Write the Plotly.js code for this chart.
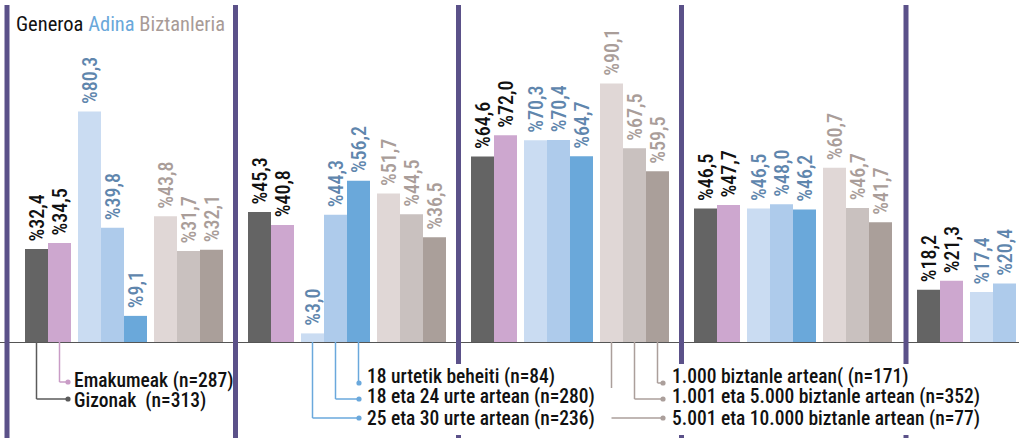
<!DOCTYPE html>
<html><head><meta charset="utf-8">
<script src="https://cdn.plot.ly/plotly-3.0.1.min.js"></script>
<style>html,body{margin:0;padding:0;background:#fff;overflow:hidden}#chart{width:1019px;height:438px}</style>
</head><body><div id="chart"></div>
<script>
// ---- data ----
const groups = ['1', '2', '3', '4', '5'];
const gizonak     = [32.4, 45.3, 64.6, 46.5, 18.2];
const emakumeak   = [34.5, 40.8, 72.0, 47.7, 21.3];
const adina25_30  = [80.3, 3.0, 70.3, 46.5, 17.4];
const adina18_24  = [39.8, 44.3, 70.4, 48.0, 20.4];
const adina18beh  = [9.1, 56.2, 64.7, 46.2, null];
const bizt5001    = [43.8, 51.7, 90.1, 60.7, null];
const bizt1001    = [31.7, 44.5, 67.5, 46.7, null];
const bizt1000    = [32.1, 36.5, 59.5, 41.7, null];
const headerLabels = ['Generoa', 'Adina', 'Biztanleria'];
const genderLabels = ['Gizonak\u00a0\u00a0(n=313)', 'Emakumeak (n=287)'];
const ageLabels = ['25 eta 30 urte artean (n=236)', '18 eta 24 urte artean (n=280)', '18 urtetik beheiti (n=84)'];
const popLabels = ['5.001 eta 10.000 biztanle artean (n=77)', '1.001 eta 5.000 biztanle artean (n=352)', '1.000 biztanle artean( (n=171)'];

// ---- layout constants ----
const W = 1019, H = 438, BASE = 342;
const C0 = 124, PITCH = 223, BW = 23, GAP = 7;
const FONT = '"Roboto Condensed", Roboto, sans-serif';
const sizes = [2, 3, 3];
const offsets = [];
(function () {
  const total = 8 * BW + 2 * GAP;
  let pos = -total / 2;
  sizes.forEach(n => {
    for (let j = 0; j < n; j++) { offsets.push(pos + BW / 2); pos += BW; }
    pos += GAP;
  });
})();
const px2x = p => (p - C0) / PITCH;
const py2paper = p => (BASE - p) / BASE;
const barX = (g, s) => g + offsets[s] / PITCH;

const series = [
  { y: gizonak,    color: '#646464', tc: '#111111', name: genderLabels[0] },
  { y: emakumeak,  color: '#cda7cf', tc: '#111111', name: genderLabels[1] },
  { y: adina25_30, color: '#cadcf2', tc: '#5f86ad', name: ageLabels[0] },
  { y: adina18_24, color: '#aecbeb', tc: '#5f86ad', name: ageLabels[1] },
  { y: adina18beh, color: '#6aa8da', tc: '#5f86ad', name: ageLabels[2] },
  { y: bizt5001,   color: '#e0d7d6', tc: '#a99d99', name: popLabels[0] },
  { y: bizt1001,   color: '#c9c1bf', tc: '#a99d99', name: popLabels[1] },
  { y: bizt1000,   color: '#aa9f9a', tc: '#a99d99', name: popLabels[2] }
];
const fmt = v => v == null ? '' : '\u00a0%' + v.toFixed(1).replace('.', ',');

const traces = series.map((s, i) => ({
  type: 'bar',
  name: s.name,
  x: groups.map((_, g) => barX(g, i)),
  y: s.y,
  width: BW / PITCH,
  marker: { color: s.color, line: { width: 0 } },
  text: s.y.map(fmt),
  textposition: 'outside',
  textangle: -90,
  constraintext: 'none',
  cliponaxis: true,
  textfont: { family: FONT, size: 20, color: s.tc, weight: 500 },
  hoverinfo: 'skip'
}));

const shapes = [];
const annotations = [];
const DIV = '#5b5189';
const divs = [
  { p: 7, full: true }, { p: C0 + 0.5 * PITCH, full: true },
  { p: C0 + 1.5 * PITCH, full: false }, { p: C0 + 2.5 * PITCH, full: false }, { p: C0 + 3.5 * PITCH + 1.5, full: false }
];
divs.forEach(d => {
  const segs = d.full ? [[5, H]] : [[5, 364], [435, H]];
  segs.forEach(([a, b]) => shapes.push({
    type: 'line', xref: 'paper', yref: 'paper', layer: 'above',
    x0: d.p / W, x1: d.p / W, y0: py2paper(a), y1: py2paper(b),
    line: { color: DIV, width: 5 }
  }));
});
function leader(g, s, rowY, dotPx, textPx, textY, text, color, gapTo) {
  const xb = barX(g, s);
  const vEnd = gapTo != null ? gapTo : rowY;
  shapes.push({ type: 'line', xref: 'x', yref: 'paper', x0: xb, x1: xb, y0: 0, y1: py2paper(vEnd), line: { color: color, width: 1.5 } });
  shapes.push({ type: 'line', xref: 'x', yref: 'paper', x0: xb, x1: px2x(dotPx), y0: py2paper(rowY), y1: py2paper(rowY), line: { color: color, width: 1.5 } });
  const r = 2.6;
  shapes.push({ type: 'circle', xref: 'paper', yref: 'paper', x0: (dotPx - r) / W, x1: (dotPx + r) / W, y0: py2paper(rowY + r), y1: py2paper(rowY - r), fillcolor: color, line: { width: 0 } });
  annotations.push({ xref: 'paper', yref: 'paper', x: textPx / W, y: py2paper(textY), xanchor: 'left', yanchor: 'middle', showarrow: false, text: text, font: { family: FONT, size: 19.5, color: '#111', weight: 500 } });
}
leader(0, 0, 399, 68, 72, 400, genderLabels[0], '#5a5a5a');
leader(0, 1, 382, 68, 72, 381, genderLabels[1], '#c99cc6');
leader(1, 2, 418, 359, 365, 418, ageLabels[0], '#6aa8dc');
leader(1, 3, 399, 359, 365, 397, ageLabels[1], '#6aa8dc');
leader(1, 4, 383, 359, 365, 376, ageLabels[2], '#6aa8dc');
leader(2, 5, 418, 663, 670, 418, popLabels[0], '#ab9f9b', 388);
leader(2, 6, 399, 663, 670, 397, popLabels[1], '#ab9f9b');
leader(2, 7, 383, 663, 670, 376, popLabels[2], '#ab9f9b');

annotations.push({
  xref: 'paper', yref: 'paper', x: 14 / W, y: py2paper(24), xanchor: 'left', yanchor: 'middle', showarrow: false,
  text: '<span style="color:#111">' + headerLabels[0] + '</span> <span style="color:#6aa8da">' + headerLabels[1] + '</span> <span style="color:#a89b97">' + headerLabels[2] + '</span>',
  font: { family: FONT, size: 20.5 }
});

const layout = {
  width: W, height: H,
  margin: { l: 0, r: 0, t: 0, b: H - BASE, pad: 0 },
  paper_bgcolor: '#fff', plot_bgcolor: '#fff',
  barmode: 'overlay',
  showlegend: false,
  xaxis: { range: [px2x(0), px2x(W)], showgrid: false, zeroline: false, showticklabels: false, ticks: '', showline: true, linecolor: '#555', linewidth: 1, fixedrange: true },
  yaxis: { range: [0, BASE / 2.87], showgrid: false, zeroline: false, showticklabels: false, ticks: '', showline: false, fixedrange: true },
  shapes: shapes,
  annotations: annotations
};
Plotly.newPlot('chart', traces, layout, { displayModeBar: false, staticPlot: true });
</script>
</body></html>
